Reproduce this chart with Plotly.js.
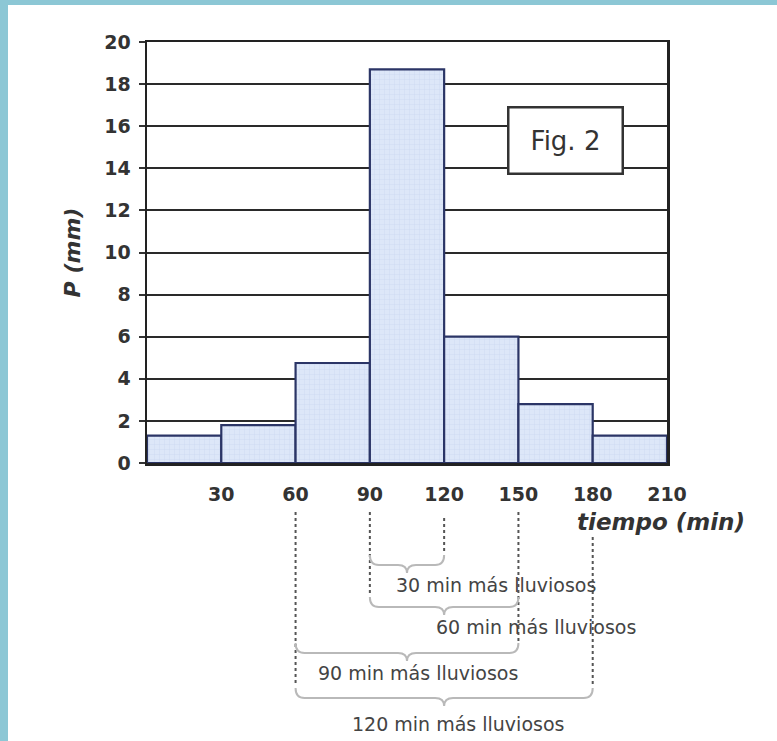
<!DOCTYPE html>
<html>
<head>
<meta charset="utf-8">
<script src="https://cdn.plot.ly/plotly-3.0.1.min.js"></script>
<style>
  html, body { margin: 0; padding: 0; background: #ffffff; }
  #chart { width: 777px; height: 741px; }
</style>
</head>
<body>
<div id="chart"></div>
<script>
// ---- data ----
const binStart = [0, 30, 60, 90, 120, 150, 180];
const binWidth = [30, 30, 30, 30, 30, 30, 30];
const rainfall = [1.3, 1.8, 4.75, 18.7, 6.0, 2.8, 1.3];
const xTickVals = [30, 60, 90, 120, 150, 180, 210];
const yTickVals = [0, 2, 4, 6, 8, 10, 12, 14, 16, 18, 20];
const windowLabels = ['30 min más lluviosos', '60 min más lluviosos', '90 min más lluviosos', '120 min más lluviosos'];
const windowStart = [90, 90, 60, 60];
const windowEnd = [120, 150, 150, 180];

// ---- layout helpers (pixel geometry of the page) ----
const W = 777, H = 741;
const M = {l: 147, r: 110, t: 42, b: 278};
const plotH = H - M.t - M.b;          // 421
const plotW = W - M.l - M.r;          // 520
const XMAX = 210;
function py(p) { return (H - M.b - p) / plotH; }   // pixel y -> paper y
function pxw(dp) { return dp * XMAX / plotW; }        // pixel width -> data width
function px(p) { return (p - M.l) / plotW; }          // pixel x -> paper x

const FONT = 'DejaVu Sans, Arial, sans-serif';

const barX = binStart.map((s, i) => s + binWidth[i] / 2);

const traces = [{
  type: 'bar',
  x: barX,
  y: rainfall,
  width: binWidth,
  marker: {
    color: '#dbe5f7',
    line: {color: '#2b3566', width: 2.2},
    pattern: {shape: '+', fgcolor: '#c7d4ee', bgcolor: '#dde7f8', size: 5, solidity: 0.12}
  },
  hoverinfo: 'x+y',
  showlegend: false
}];

const shapes = [];
const annotations = [];

// blue frame strips
shapes.push({type: 'rect', xref: 'paper', yref: 'paper', x0: px(0), x1: px(8), y0: py(H), y1: py(0),
  fillcolor: '#8cc7d5', line: {width: 0}, layer: 'below'});
shapes.push({type: 'rect', xref: 'paper', yref: 'paper', x0: px(0), x1: px(W), y0: py(5), y1: py(0),
  fillcolor: '#8cc7d5', line: {width: 0}, layer: 'below'});

// brace geometry (pixel rows for each window)
const braceRow = [565, 607, 653, 698];
const labelRow = [585, 627, 673, 724];
const labelShift = [36, 37, 4.4, 5.6];
const curl = 10, tip = 8, rr = pxw(9);

// dotted guide lines from each window boundary down to its lowest brace
const bounds = {};
windowStart.forEach((s, i) => {
  [s, windowEnd[i]].forEach(b => {
    bounds[b] = Math.max(bounds[b] || 0, braceRow[i] - curl - 2);
  });
});
Object.keys(bounds).forEach(k => {
  const b = Number(k);
  const top = b === 180 ? 537 : (b === 120 ? 518 : 512);
  shapes.push({type: 'line', xref: 'x', yref: 'paper', x0: b, x1: b, y0: py(top), y1: py(bounds[k]),
    line: {color: '#555555', width: 2, dash: 'dot'}});
});

// braces
windowStart.forEach((s, i) => {
  const e = windowEnd[i];
  const m = (s + e) / 2;
  const yb = py(braceRow[i]);
  const yt = py(braceRow[i] - curl);
  const yk = py(braceRow[i] + tip);
  const path = `M ${s},${yt} Q ${s},${yb} ${s + rr},${yb} L ${m - rr},${yb} Q ${m},${yb} ${m},${yk} ` +
               `Q ${m},${yb} ${m + rr},${yb} L ${e - rr},${yb} Q ${e},${yb} ${e},${yt}`;
  shapes.push({type: 'path', xref: 'x', yref: 'paper', path: path,
    line: {color: '#b9b9b9', width: 2}});
  annotations.push({xref: 'x', yref: 'paper', x: m + labelShift[i], y: py(labelRow[i]),
    text: windowLabels[i], showarrow: false, xanchor: 'center', yanchor: 'middle',
    font: {family: FONT, size: 19, color: '#444444'}});
});

// Fig. 2 box
annotations.push({xref: 'x', yref: 'y', x: 169.2, y: 15.3, text: 'Fig. 2', showarrow: false,
  font: {family: FONT, size: 26, color: '#333333'}, bgcolor: '#ffffff',
  bordercolor: '#333333', borderwidth: 2.5, width: 112, height: 64, borderpad: 0});

// x axis title (right-aligned, below the ticks)
annotations.push({xref: 'paper', yref: 'paper', x: px(575), y: py(522), xanchor: 'left', yanchor: 'middle',
  text: '<b><i>tiempo (min)</i></b>', showarrow: false,
  font: {family: FONT, size: 23, color: '#333333'}});

const layout = {
  width: W, height: H,
  margin: M,
  paper_bgcolor: '#ffffff',
  plot_bgcolor: '#ffffff',
  showlegend: false,
  bargap: 0,
  font: {family: FONT, color: '#333333'},
  xaxis: {
    range: [0, XMAX], tickmode: 'array', tickvals: xTickVals, ticktext: xTickVals.map(String),
    ticks: '', showgrid: false, zeroline: false,
    showline: true, linecolor: '#222222', linewidth: 2.5, mirror: true,
    tickfont: {family: FONT, size: 19, color: '#333333', weight: 'bold'},
    ticklabelstandoff: 13, fixedrange: true
  },
  yaxis: {
    range: [0, 20], tickmode: 'array', tickvals: yTickVals, ticktext: yTickVals.map(String),
    ticks: 'outside', ticklen: 6, tickwidth: 2, tickcolor: '#333333',
    showgrid: true, gridcolor: '#2a2a2a', gridwidth: 2, zeroline: false,
    showline: true, linecolor: '#222222', linewidth: 2.5, mirror: true,
    tickfont: {family: FONT, size: 19, color: '#333333', weight: 'bold'},
    ticklabelstandoff: 4,
    title: {text: '<b><i>P (mm)</i></b>', font: {family: FONT, size: 22, color: '#333333'}, standoff: 18},
    fixedrange: true
  },
  shapes: shapes,
  annotations: annotations
};

Plotly.newPlot('chart', traces, layout, {displayModeBar: false, staticPlot: true});
</script>
</body>
</html>
